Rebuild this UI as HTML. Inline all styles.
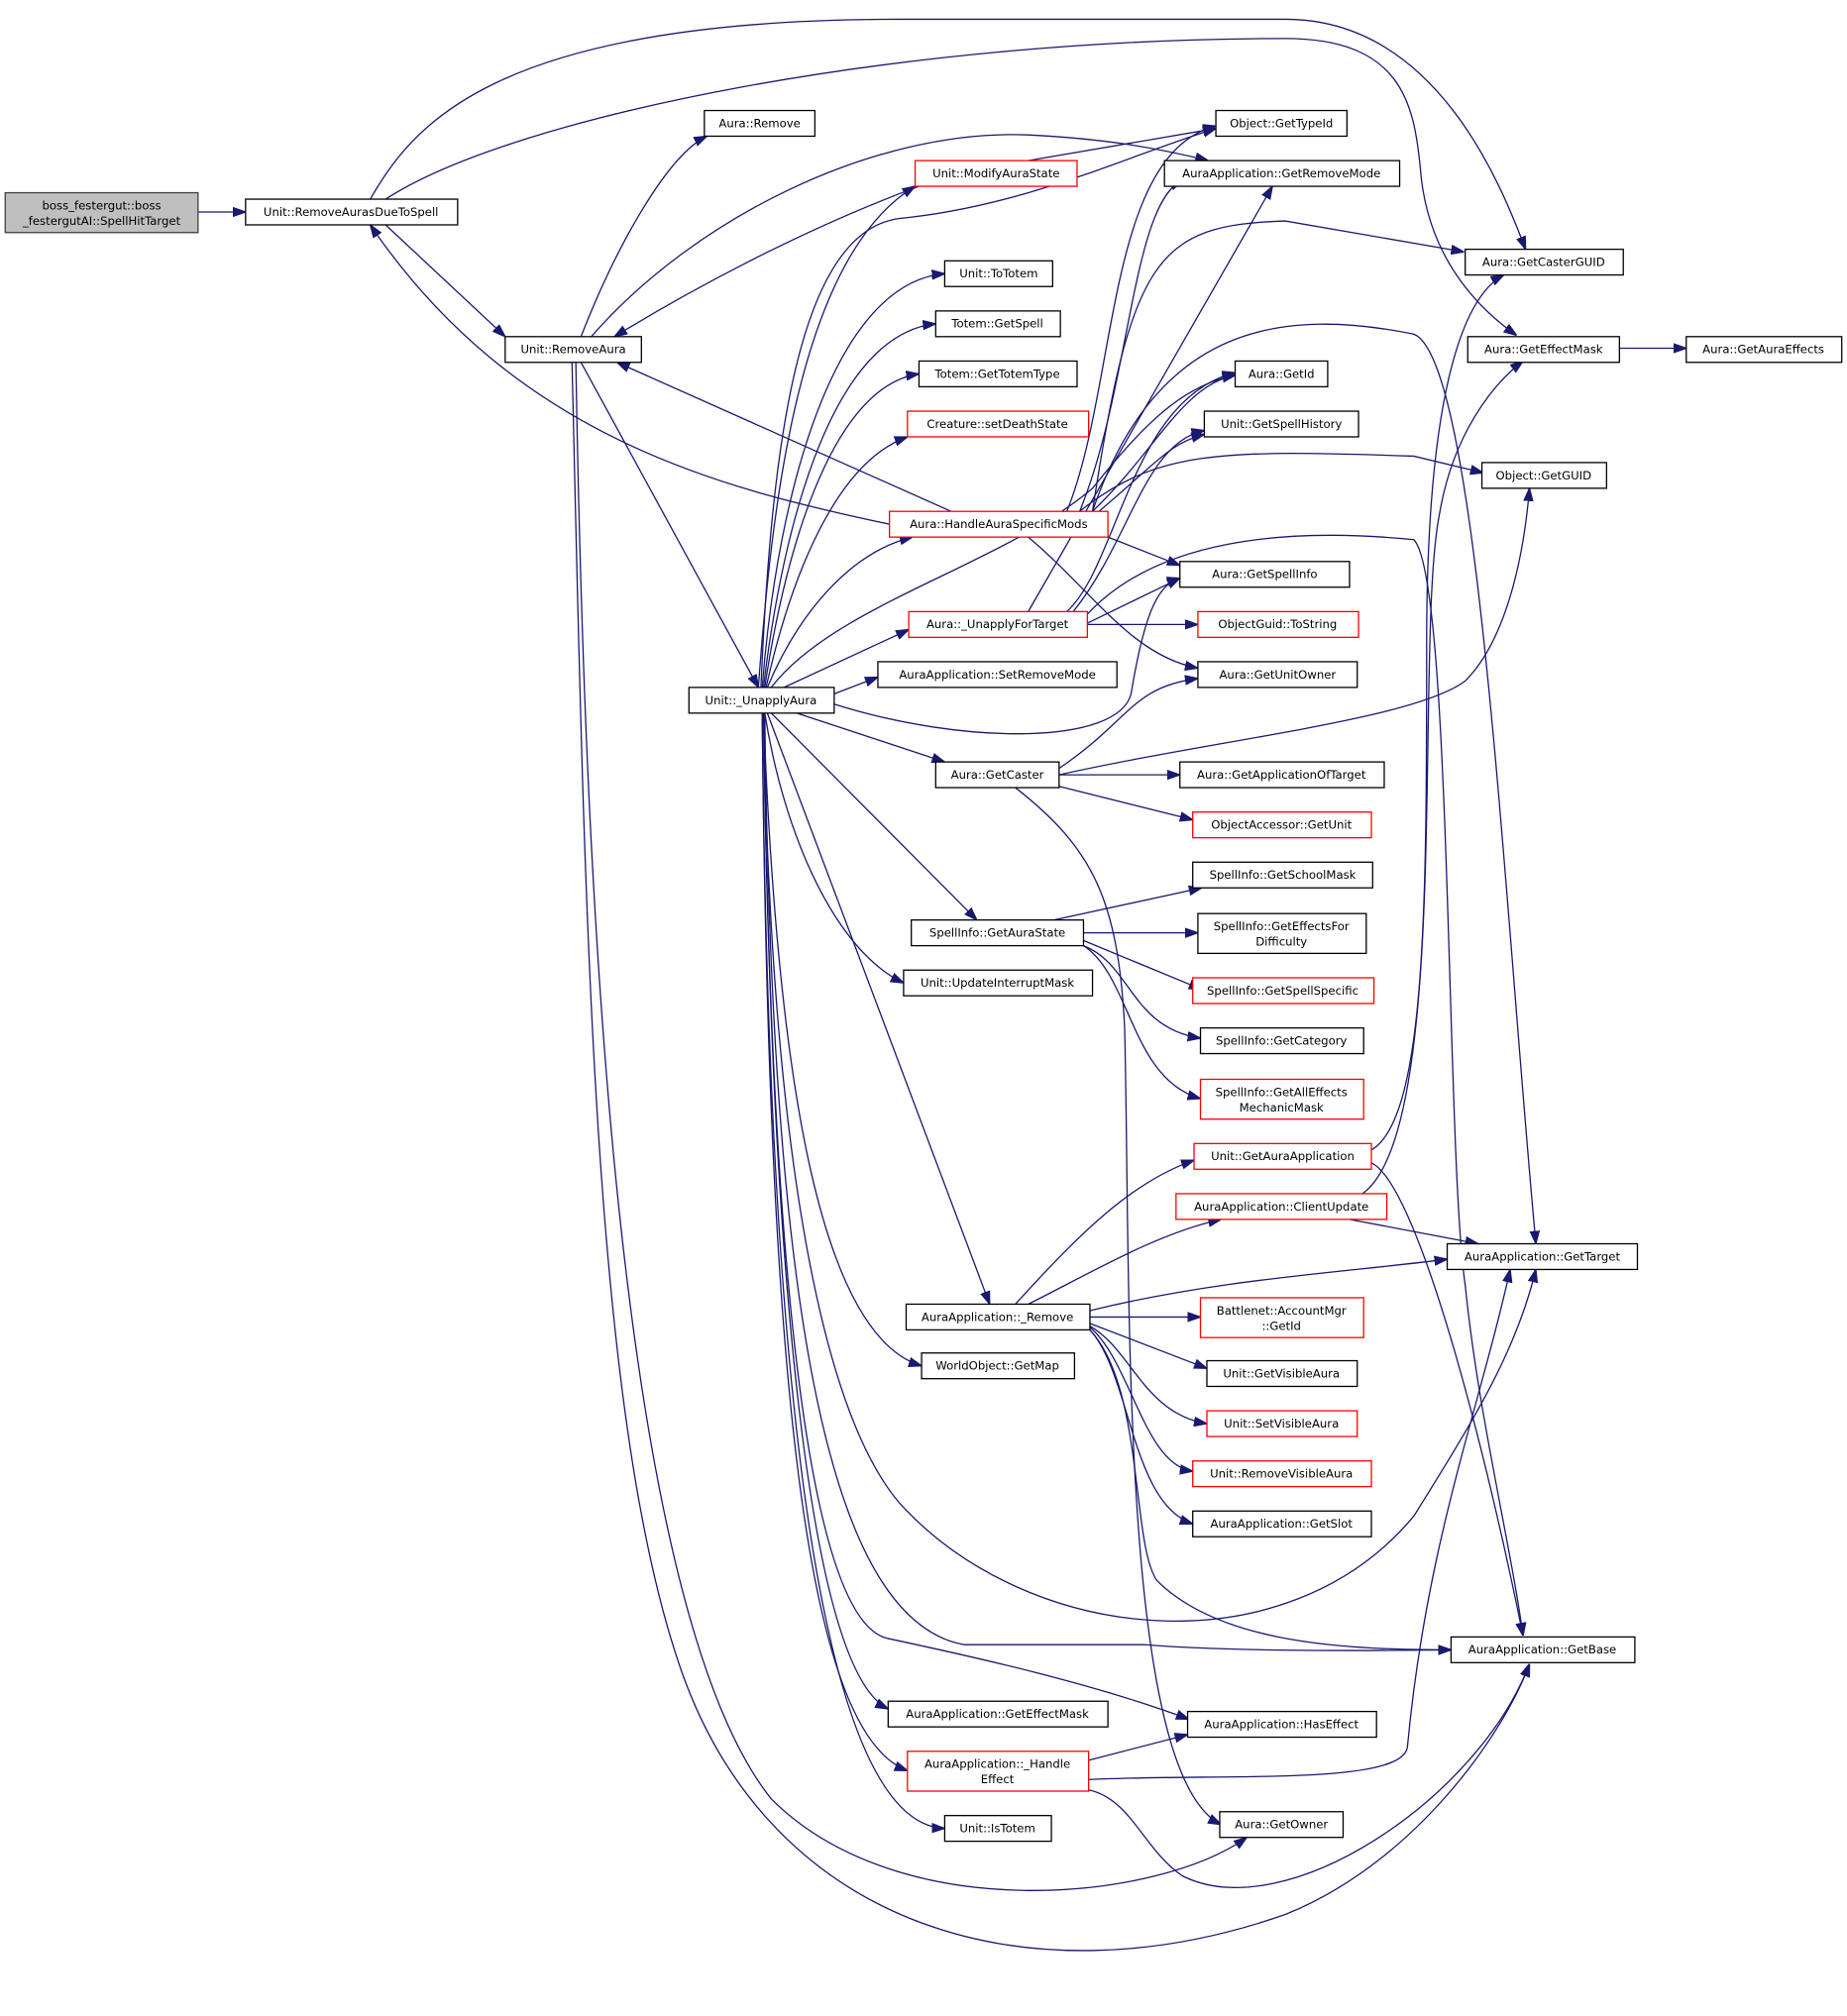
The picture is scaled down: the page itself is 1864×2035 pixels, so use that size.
<!DOCTYPE html>
<html><head><meta charset="utf-8"><style>
html,body{margin:0;padding:0;background:#fff;}
svg{display:block;}
text{font-family:"DejaVu Sans","Liberation Sans",sans-serif;font-size:9px;fill:#000;text-anchor:middle;}
.n{fill:#fff;stroke:#000;stroke-width:1;}
.r{fill:#fff;stroke:#ff0000;stroke-width:1;}
.g{fill:#bfbfbf;stroke:#404040;stroke-width:1;}
path.e{fill:none;stroke:#191970;stroke-width:1;marker-end:url(#a);}
</style></head><body>
<svg width="1864" height="2035" viewBox="0 0 1437 1569" xmlns="http://www.w3.org/2000/svg">
<defs><marker id="a" viewBox="0 0 10 10" refX="10" refY="5" markerWidth="10" markerHeight="10" markerUnits="userSpaceOnUse" orient="auto"><path d="M0,1.5 L10,5 L0,8.5 z" fill="#191970" stroke="#191970"/></marker></defs>
<g>
<path class="e" d="M154,165 L191,165"/>
<path class="e" d="M300,175 L393,262"/>
<path class="e" d="M288,155 C320,100 380,15 700,15 L1000,15 C1120,15 1170,150 1187,194"/>
<path class="e" d="M300,155 C400,90 700,30 1000,30 C1090,30 1100,80 1105,130 C1110,200 1150,240 1180,261"/>
<path class="e" d="M452,262 C480,190 520,120 550,106"/>
<path class="e" d="M460,262 C540,170 680,100 800,105 C860,108 900,115 940,125"/>
<path class="e" d="M452,282 L590,535"/>
<path class="e" d="M445,282 C455,700 460,1100 530,1300 C600,1500 800,1560 1000,1490 C1100,1450 1170,1350 1190,1295"/>
<path class="e" d="M448,282 C455,700 480,1250 600,1400 C700,1500 900,1480 970,1430"/>
<path class="e" d="M692,408 C560,380 400,340 288,175"/>
<path class="e" d="M715,145 C620,180 530,230 478,262"/>
<path class="e" d="M740,398 L480,282"/>
<path class="e" d="M800,125 L946,100"/>
<path class="e" d="M590,535 C600,400 620,200 712,145"/>
<path class="e" d="M592,535 C600,350 620,180 700,170 C800,160 880,120 946,100"/>
<path class="e" d="M593,535 C605,380 650,220 735,213"/>
<path class="e" d="M594,535 C610,400 650,260 728,252"/>
<path class="e" d="M595,535 C612,420 650,300 715,291"/>
<path class="e" d="M596,535 C615,450 650,360 706,340"/>
<path class="e" d="M597,535 C620,480 660,430 710,418"/>
<path class="e" d="M610,535 L707,490"/>
<path class="e" d="M649,540 L683,527"/>
<path class="e" d="M620,555 L735,593"/>
<path class="e" d="M600,555 L760,716"/>
<path class="e" d="M595,555 C610,650 650,740 703,765"/>
<path class="e" d="M597,555 L770,1015"/>
<path class="e" d="M594,555 C605,850 640,1040 717,1063"/>
<path class="e" d="M594,555 C600,1000 630,1300 691,1330"/>
<path class="e" d="M594,555 C600,1000 630,1260 690,1275 C760,1290 850,1310 925,1338"/>
<path class="e" d="M593,555 C598,1100 630,1350 706,1378"/>
<path class="e" d="M593,555 C598,1100 640,1420 735,1423"/>
<path class="e" d="M594,555 C600,900 640,1100 700,1170 C800,1280 1000,1300 1100,1180 C1150,1100 1180,1050 1195,988"/>
<path class="e" d="M595,555 C600,1000 640,1260 750,1280 L890,1280 C950,1285 1050,1285 1129,1284"/>
<path class="e" d="M649,548 C750,580 870,580 880,540 C890,480 900,455 918,450"/>
<path class="e" d="M600,535 C650,470 780,440 850,380 C890,330 920,300 961,292"/>
<path class="e" d="M800,476 L990,145"/>
<path class="e" d="M830,398 C870,300 860,120 946,98"/>
<path class="e" d="M840,398 C880,300 880,160 920,140"/>
<path class="e" d="M850,398 C880,200 900,175 1000,172 L1139,196"/>
<path class="e" d="M850,398 C900,350 920,300 961,292"/>
<path class="e" d="M855,398 C900,360 910,345 937,338"/>
<path class="e" d="M862,418 L918,440"/>
<path class="e" d="M800,418 C850,460 880,510 932,520"/>
<path class="e" d="M840,398 C900,350 950,350 1100,355 L1154,368"/>
<path class="e" d="M850,398 C900,250 1000,240 1100,260 C1150,280 1170,700 1195,968"/>
<path class="e" d="M846,485 L918,450"/>
<path class="e" d="M846,486 L932,486"/>
<path class="e" d="M830,476 C870,440 880,310 961,290"/>
<path class="e" d="M835,476 C880,420 890,345 937,335"/>
<path class="e" d="M846,478 C900,420 1000,410 1100,420 C1130,450 1125,900 1140,1000 C1150,1100 1175,1200 1185,1273"/>
<path class="e" d="M824,598 C880,560 880,535 932,528"/>
<path class="e" d="M824,603 C950,575 1100,560 1140,530 C1170,500 1185,440 1190,380"/>
<path class="e" d="M824,603 L918,603"/>
<path class="e" d="M824,612 L928,638"/>
<path class="e" d="M790,613 C850,660 870,700 875,800 C880,1000 870,1380 950,1420"/>
<path class="e" d="M820,716 L935,691"/>
<path class="e" d="M843,726 L932,726"/>
<path class="e" d="M843,732 L935,770"/>
<path class="e" d="M843,736 C880,750 880,800 934,808"/>
<path class="e" d="M843,736 C880,760 880,840 934,855"/>
<path class="e" d="M1067,895 C1110,870 1110,700 1110,500 C1110,300 1140,230 1170,214"/>
<path class="e" d="M1067,905 C1100,920 1150,1100 1185,1273"/>
<path class="e" d="M1060,929 C1130,880 1100,500 1120,400 C1130,340 1160,300 1185,281"/>
<path class="e" d="M1050,949 L1150,968"/>
<path class="e" d="M790,1015 C840,960 880,920 929,903"/>
<path class="e" d="M800,1015 C850,990 900,960 950,949"/>
<path class="e" d="M848,1020 C950,995 1050,990 1126,980"/>
<path class="e" d="M848,1025 L934,1025"/>
<path class="e" d="M848,1030 L939,1065"/>
<path class="e" d="M848,1032 C880,1050 890,1100 939,1108"/>
<path class="e" d="M848,1033 C880,1060 890,1140 928,1145"/>
<path class="e" d="M848,1035 C880,1070 880,1170 928,1186"/>
<path class="e" d="M848,1035 C890,1080 880,1200 900,1230 C950,1280 1050,1284 1129,1284"/>
<path class="e" d="M847,1370 L924,1350"/>
<path class="e" d="M847,1385 C950,1380 1090,1390 1095,1360 C1110,1200 1150,1100 1175,988"/>
<path class="e" d="M847,1393 C880,1400 890,1440 920,1460 C1000,1500 1150,1400 1190,1295"/>
<path class="e" d="M1260,271 L1312,271"/>
</g>
<g>
<rect class="g" x="4" y="150" width="150" height="31"/><text x="79" y="163">boss_festergut::boss</text><text x="79" y="175">_festergutAI::SpellHitTarget</text>
<rect class="n" x="191" y="155" width="165" height="20"/><text x="273" y="168">Unit::RemoveAurasDueToSpell</text>
<rect class="n" x="393" y="262" width="106" height="20"/><text x="446" y="275">Unit::RemoveAura</text>
<rect class="n" x="548" y="86" width="86" height="20"/><text x="591" y="99">Aura::Remove</text>
<rect class="r" x="712" y="125" width="126" height="20"/><text x="775" y="138">Unit::ModifyAuraState</text>
<rect class="n" x="946" y="86" width="102" height="20"/><text x="997" y="99">Object::GetTypeId</text>
<rect class="n" x="906" y="125" width="183" height="20"/><text x="997" y="138">AuraApplication::GetRemoveMode</text>
<rect class="n" x="735" y="203" width="84" height="20"/><text x="777" y="216">Unit::ToTotem</text>
<rect class="n" x="728" y="242" width="97" height="20"/><text x="776" y="255">Totem::GetSpell</text>
<rect class="n" x="715" y="281" width="123" height="20"/><text x="776" y="294">Totem::GetTotemType</text>
<rect class="r" x="706" y="320" width="141" height="20"/><text x="776" y="333">Creature::setDeathState</text>
<rect class="n" x="1140" y="194" width="123" height="20"/><text x="1201" y="207">Aura::GetCasterGUID</text>
<rect class="n" x="1142" y="262" width="118" height="20"/><text x="1201" y="275">Aura::GetEffectMask</text>
<rect class="n" x="1312" y="262" width="121" height="20"/><text x="1372" y="275">Aura::GetAuraEffects</text>
<rect class="n" x="961" y="281" width="72" height="20"/><text x="997" y="294">Aura::GetId</text>
<rect class="n" x="937" y="320" width="120" height="20"/><text x="997" y="333">Unit::GetSpellHistory</text>
<rect class="n" x="1153" y="360" width="97" height="20"/><text x="1201" y="373">Object::GetGUID</text>
<rect class="r" x="692" y="398" width="170" height="20"/><text x="777" y="411">Aura::HandleAuraSpecificMods</text>
<rect class="n" x="918" y="437" width="132" height="20"/><text x="984" y="450">Aura::GetSpellInfo</text>
<rect class="r" x="707" y="476" width="139" height="20"/><text x="776" y="489">Aura::_UnapplyForTarget</text>
<rect class="r" x="932" y="476" width="125" height="20"/><text x="994" y="489">ObjectGuid::ToString</text>
<rect class="n" x="683" y="515" width="186" height="20"/><text x="776" y="528">AuraApplication::SetRemoveMode</text>
<rect class="n" x="932" y="515" width="124" height="20"/><text x="994" y="528">Aura::GetUnitOwner</text>
<rect class="n" x="536" y="535" width="113" height="20"/><text x="592" y="548">Unit::_UnapplyAura</text>
<rect class="n" x="728" y="593" width="96" height="20"/><text x="776" y="606">Aura::GetCaster</text>
<rect class="n" x="918" y="593" width="159" height="20"/><text x="997" y="606">Aura::GetApplicationOfTarget</text>
<rect class="r" x="928" y="632" width="139" height="20"/><text x="997" y="645">ObjectAccessor::GetUnit</text>
<rect class="n" x="928" y="671" width="140" height="20"/><text x="998" y="684">SpellInfo::GetSchoolMask</text>
<rect class="n" x="709" y="716" width="134" height="20"/><text x="776" y="729">SpellInfo::GetAuraState</text>
<rect class="n" x="932" y="711" width="131" height="31"/><text x="997" y="724">SpellInfo::GetEffectsFor</text><text x="997" y="736">Difficulty</text>
<rect class="r" x="928" y="761" width="141" height="20"/><text x="998" y="774">SpellInfo::GetSpellSpecific</text>
<rect class="n" x="703" y="755" width="147" height="20"/><text x="776" y="768">Unit::UpdateInterruptMask</text>
<rect class="n" x="934" y="800" width="127" height="20"/><text x="997" y="813">SpellInfo::GetCategory</text>
<rect class="r" x="934" y="840" width="127" height="31"/><text x="997" y="853">SpellInfo::GetAllEffects</text><text x="997" y="865">MechanicMask</text>
<rect class="r" x="929" y="890" width="138" height="20"/><text x="998" y="903">Unit::GetAuraApplication</text>
<rect class="r" x="915" y="929" width="164" height="20"/><text x="997" y="942">AuraApplication::ClientUpdate</text>
<rect class="n" x="1126" y="968" width="148" height="20"/><text x="1200" y="981">AuraApplication::GetTarget</text>
<rect class="n" x="705" y="1015" width="143" height="20"/><text x="776" y="1028">AuraApplication::_Remove</text>
<rect class="r" x="934" y="1010" width="127" height="31"/><text x="997" y="1023">Battlenet::AccountMgr</text><text x="997" y="1035">::GetId</text>
<rect class="n" x="717" y="1053" width="119" height="20"/><text x="776" y="1066">WorldObject::GetMap</text>
<rect class="n" x="939" y="1059" width="117" height="20"/><text x="997" y="1072">Unit::GetVisibleAura</text>
<rect class="r" x="939" y="1098" width="117" height="20"/><text x="997" y="1111">Unit::SetVisibleAura</text>
<rect class="r" x="928" y="1137" width="139" height="20"/><text x="997" y="1150">Unit::RemoveVisibleAura</text>
<rect class="n" x="928" y="1176" width="139" height="20"/><text x="997" y="1189">AuraApplication::GetSlot</text>
<rect class="n" x="1129" y="1274" width="143" height="20"/><text x="1200" y="1287">AuraApplication::GetBase</text>
<rect class="n" x="691" y="1324" width="171" height="20"/><text x="776" y="1337">AuraApplication::GetEffectMask</text>
<rect class="n" x="924" y="1332" width="147" height="20"/><text x="997" y="1345">AuraApplication::HasEffect</text>
<rect class="r" x="706" y="1363" width="141" height="31"/><text x="776" y="1376">AuraApplication::_Handle</text><text x="776" y="1388">Effect</text>
<rect class="n" x="735" y="1413" width="83" height="20"/><text x="776" y="1426">Unit::IsTotem</text>
<rect class="n" x="949" y="1410" width="96" height="20"/><text x="997" y="1423">Aura::GetOwner</text>
</g>
</svg>
</body></html>
